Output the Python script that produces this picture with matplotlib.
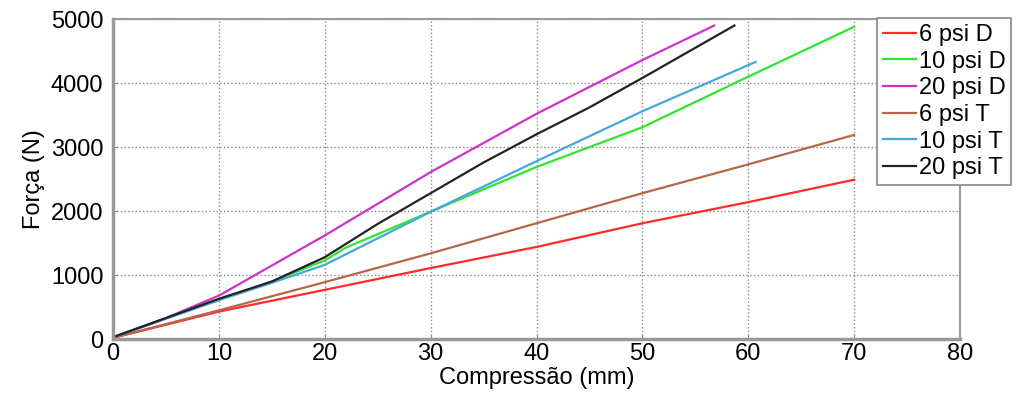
import matplotlib
matplotlib.use('Agg')
import matplotlib.pyplot as plt

plt.rcParams['font.family'] = ['Liberation Sans', 'DejaVu Sans']

# --- dados (compressão em mm, força em N) ---
x_6D = [0, 10, 20, 30, 40, 50, 60, 70]
f_6D = [20, 430, 770, 1110, 1440, 1810, 2140, 2490]

x_10D = [0, 5, 10, 15, 20, 22, 30, 40, 45, 50, 60, 70]
f_10D = [30, 320, 610, 900, 1230, 1430, 1990, 2690, 3000, 3310, 4100, 4880]

x_20D = [0, 5, 10, 20, 30, 40, 50, 56.8]
f_20D = [30, 330, 680, 1620, 2610, 3520, 4360, 4900]

x_6T = [0, 10, 20, 30, 40, 50, 60, 70]
f_6T = [20, 450, 890, 1340, 1810, 2280, 2730, 3190]

x_10T = [0, 5, 10, 15, 20, 30, 40, 50, 60, 60.7]
f_10T = [30, 320, 610, 880, 1160, 1990, 2780, 3560, 4280, 4330]

x_20T = [0, 5, 10, 15, 20, 25, 30, 35, 40, 45, 50, 58.7]
f_20T = [30, 330, 630, 900, 1280, 1800, 2280, 2760, 3200, 3620, 4080, 4900]

labels = ['6 psi D', '10 psi D', '20 psi D', '6 psi T', '10 psi T', '20 psi T']
colors = ['#ff2a2a', '#2ee62e', '#cc33cc', '#b8664a', '#44a8dd', '#222222']

fig = plt.figure(figsize=(10.19, 3.98), dpi=100)
ax = fig.add_axes([0.111, 0.148, 0.831, 0.804])

series = [(x_6D, f_6D), (x_10D, f_10D), (x_20D, f_20D),
          (x_6T, f_6T), (x_10T, f_10T), (x_20T, f_20T)]
for (xs, fs), lab, col in zip(series, labels, colors):
    ax.plot(xs, fs, color=col, linewidth=1.6, label=lab)

ax.set_xlim(0, 80)
ax.set_ylim(0, 5000)
ax.set_xticks(range(0, 81, 10))
ax.set_yticks(range(0, 5001, 1000))
ax.grid(True, linestyle=':', color='#888888', linewidth=1.0)
ax.tick_params(direction='in', length=3, labelsize=17, color='#888888')
ax.tick_params(axis='x', pad=3)
ax.tick_params(axis='y', pad=7)
for s in ax.spines.values():
    s.set_color('#999999')
    s.set_linewidth(1.5)
ax.spines['left'].set_linewidth(2.5)
ax.spines['bottom'].set_linewidth(2.5)

ax.set_xlabel('Compressão (mm)', fontsize=17, labelpad=1)
ax.set_ylabel('Força (N)', fontsize=17, labelpad=4)

leg = fig.legend(loc='upper left', bbox_to_anchor=(0.861, 0.955), fontsize=17,
                 handlelength=1.4, handletextpad=0.1, labelspacing=0.2,
                 borderaxespad=0, borderpad=0.25, fancybox=False, framealpha=1)
leg.get_frame().set_edgecolor('#888888')
leg.get_frame().set_linewidth(1.2)

fig.savefig('out.png', dpi=100)
